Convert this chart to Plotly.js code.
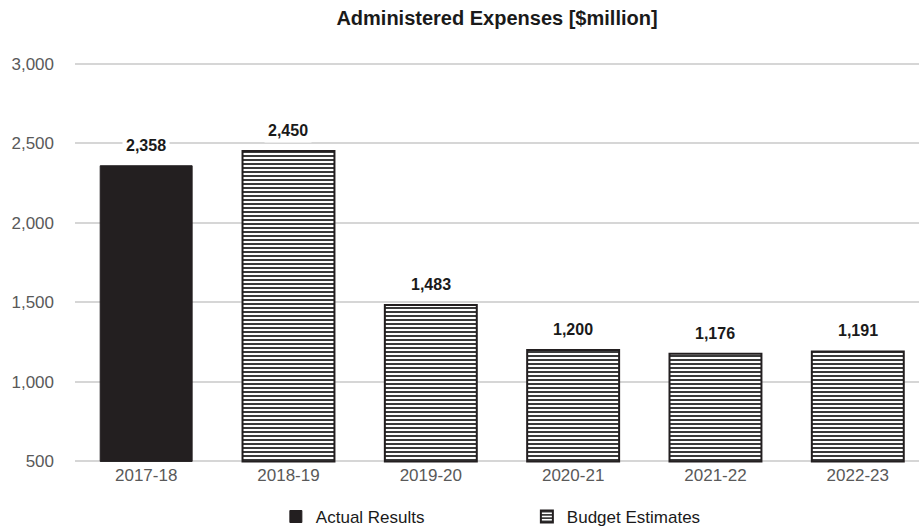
<!DOCTYPE html>
<html>
<head>
<meta charset="utf-8">
<script src="https://cdn.plot.ly/plotly-3.0.1.min.js"></script>
<style>html,body{margin:0;padding:0;background:#fff;}#chart{width:919px;height:528px;}</style>
</head>
<body>
<div id="chart"></div>
<script>
const categories = ["2017-18", "2018-19", "2019-20", "2020-21", "2021-22", "2022-23"];
const actualCategories = ["2017-18"];
const actualValues = [2358];
const budgetCategories = ["2018-19", "2019-20", "2020-21", "2021-22", "2022-23"];
const budgetValues = [2450, 1483, 1200, 1176, 1191];
const yTicks = [500, 1000, 1500, 2000, 2500, 3000];
const yTickLabels = ["500", "1,000", "1,500", "2,000", "2,500", "3,000"];

const fmt = v => v.toLocaleString("en-US");
const baseVal = 500;

const traces = [
  {
    type: "bar", name: "Actual Results",
    x: actualCategories, y: actualValues.map(v => v - baseVal), base: baseVal,
    width: 0.646,
    marker: {color: "#231f20", line: {color: "#231f20", width: 1}},
    hoverinfo: "none"
  },
  {
    type: "bar", name: "Budget Estimates",
    x: budgetCategories, y: budgetValues.map(v => v - baseVal), base: baseVal,
    width: 0.646,
    marker: {
      color: "#ffffff",
      line: {color: "#231f20", width: 2},
      pattern: {shape: "-", fgcolor: "#3a3a3a", bgcolor: "#ffffff", size: 4, solidity: 0.5}
    },
    hoverinfo: "none"
  }
];

const allCats = actualCategories.concat(budgetCategories);
const allVals = actualValues.concat(budgetValues);
const annotations = allCats.map((c, i) => ({
  x: c, y: allVals[i], xref: "x", yref: "y",
  text: "<b>" + fmt(allVals[i]) + "</b>",
  showarrow: false, yanchor: "bottom", yshift: 8,
  font: {family: "Liberation Sans, Arial, sans-serif", size: 16, color: "#1a1a1a"},
  bgcolor: "#ffffff", borderpad: 3
}));

const layout = {
  width: 919, height: 528,
  margin: {l: 75, r: 0, t: 62, b: 65},
  paper_bgcolor: "#ffffff", plot_bgcolor: "#ffffff",
  title: {
    text: "<b>Administered Expenses [$million]</b>",
    x: 0.5, xref: "paper", y: 0.965, yanchor: "middle",
    font: {family: "Liberation Sans, Arial, sans-serif", size: 20, color: "#1a1a1a"}
  },
  barmode: "overlay",
  xaxis: {
    type: "category", categoryorder: "array", categoryarray: categories,
    range: [-0.5, 5.43],
    showgrid: false, zeroline: false, showline: false, ticks: "",
    tickfont: {family: "Liberation Sans, Arial, sans-serif", size: 17, color: "#595959"},
    ticklabelstandoff: 0
  },
  yaxis: {
    range: [490, 3010],
    tickvals: yTicks, ticktext: yTickLabels,
    showgrid: true, gridcolor: "#d6d6d6", gridwidth: 2,
    zeroline: false, showline: false, ticks: "",
    tickfont: {family: "Liberation Sans, Arial, sans-serif", size: 17, color: "#595959"},
    ticklabelstandoff: 20
  },
  showlegend: true,
  legend: {
    orientation: "h", x: 0.238, xanchor: "left",
    yref: "container", y: 0.055, yanchor: "top",
    entrywidth: 206,
    font: {family: "Liberation Sans, Arial, sans-serif", size: 17, color: "#1a1a1a"},
    traceorder: "normal"
  },
  annotations: annotations
};

Plotly.newPlot("chart", traces, layout, {displayModeBar: false, staticPlot: true});
</script>
</body>
</html>
